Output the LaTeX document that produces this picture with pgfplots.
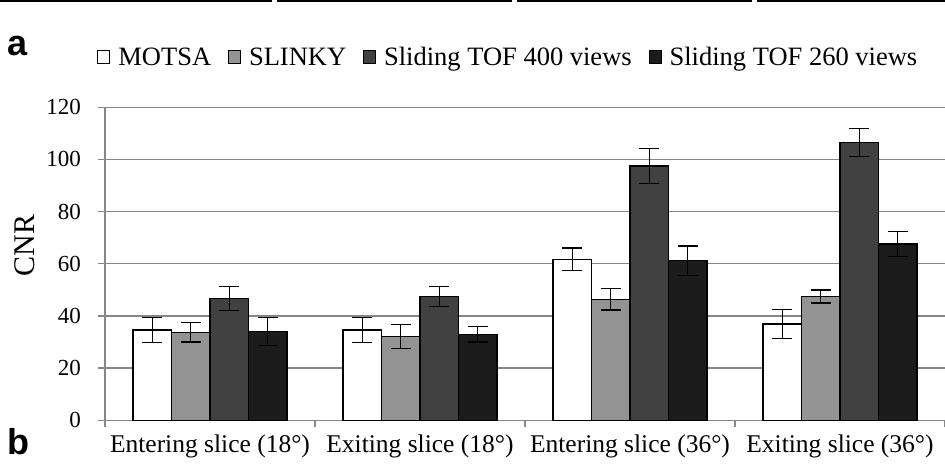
\documentclass[border=0pt]{standalone}
\usepackage{pgfplots}
\pgfplotsset{compat=1.18}
\usepackage{pgfplotstable}
\usepackage{fontspec}
\setmainfont{Liberation Serif}
\newfontfamily\labelfont{Liberation Sans}
\definecolor{gridc}{HTML}{878787}
\definecolor{cA}{HTML}{FFFFFF}
\definecolor{cB}{HTML}{939393}
\definecolor{cC}{HTML}{414141}
\definecolor{cD}{HTML}{1C1C1C}
\pgfplotstableread{
x y e
0 34.6 4.7
1 34.6 4.9
2 61.7 4.4
3 36.9 5.6
}\motsa
\pgfplotstableread{
x y e
0 33.8 3.8
1 32.1 4.7
2 46.4 4.1
3 47.5 2.5
}\slinky
\pgfplotstableread{
x y e
0 46.7 4.6
1 47.4 3.8
2 97.5 6.7
3 106.6 5.4
}\tofA
\pgfplotstableread{
x y e
0 34.0 5.4
1 33.0 3.0
2 61.2 5.6
3 67.6 4.7
}\tofB
\begin{document}
\begin{tikzpicture}
\path[use as bounding box] (0,0) rectangle (945pt,470pt);
\begin{axis}[
  at={(105pt,49.7pt)}, anchor=south west,
  scale only axis, width=840pt, height=313pt,
  xmin=-0.5, xmax=3.5, ymin=0, ymax=120,
  ytick={0,20,...,120},
  xtick={-0.5,0.5,1.5,2.5,3.5},
  xticklabels={Entering slice (18°),Exiting slice (18°),Entering slice (36°),Exiting slice (36°)},
  x tick label as interval,
  axis lines*=left,
  axis line style={draw=gridc, line width=1.3pt},
  tick align=outside, major tick length=7pt,
  tick style={draw=gridc, line width=1.3pt},
  ymajorgrids, grid style={draw=gridc, line width=1.3pt},
  /pgf/number format/assume math mode=true,
  yticklabel style={font=\fontsize{23}{26}\selectfont, anchor=east, xshift=-17pt, inner sep=0pt},
  xticklabel style={font=\fontsize{25.5}{28}\selectfont, anchor=base, yshift=-25pt},
  ylabel={CNR},
  ylabel style={font=\fontsize{30}{32}\selectfont, at={(axis description cs:-0.0952,0.558)}, anchor=center, rotate=0},
  ybar=0pt, bar width=38.5pt,
  every axis plot/.append style={draw=black, line width=1.1pt},
  error bars/error bar style={line width=1.3pt, black},
  error bars/error mark options={rotate=90, mark size=10pt, line width=1.3pt, black},
  legend columns=4,
  legend style={at={(axis description cs:0.479,1.159)}, anchor=center, draw=none, fill=none,
    font=\fontsize{26.5}{29}\selectfont, nodes={inner sep=0pt},
    /tikz/every odd column/.append style={column sep=8pt},
    /tikz/every even column/.append style={column sep=17pt}},
  legend image code/.code={\draw[#1, line width=0.9pt] (0pt,-6pt) rectangle (12pt,7pt);},
]
\addplot[fill=cA] table[x=x,y=y,y error=e] {\motsa};
\addplot[fill=cB] table[x=x,y=y,y error=e] {\slinky};
\addplot[fill=cC] table[x=x,y=y,y error=e] {\tofA};
\addplot[fill=cD] table[x=x,y=y,y error=e] {\tofB};
\addplot[draw=none, fill=none, forget plot, error bars/y dir=both, error bars/y explicit, bar shift=-57.75pt] table[x=x,y=y,y error=e] {\motsa};
\addplot[draw=none, fill=none, forget plot, error bars/y dir=both, error bars/y explicit, bar shift=-19.25pt] table[x=x,y=y,y error=e] {\slinky};
\addplot[draw=none, fill=none, forget plot, error bars/y dir=both, error bars/y explicit, bar shift=19.25pt] table[x=x,y=y,y error=e] {\tofA};
\addplot[draw=none, fill=none, forget plot, error bars/y dir=both, error bars/y explicit, bar shift=57.75pt] table[x=x,y=y,y error=e] {\tofB};
\legend{MOTSA,SLINKY,Sliding TOF 400 views,Sliding TOF 260 views}
\end{axis}
\draw[line width=3pt] (0pt,469pt) -- (272pt,469pt);
\draw[line width=3pt] (277pt,469pt) -- (512pt,469pt);
\draw[line width=3pt] (517pt,469pt) -- (752pt,469pt);
\draw[line width=3pt] (757pt,469pt) -- (945pt,469pt);
\node[font=\labelfont\bfseries\fontsize{36}{40}\selectfont, anchor=base west, inner sep=0] at (7.5pt,470pt-56pt) {a};
\node[font=\labelfont\bfseries\fontsize{36}{40}\selectfont, anchor=base west, inner sep=0] at (7.5pt,470pt-455pt) {b};
\end{tikzpicture}
\end{document}
